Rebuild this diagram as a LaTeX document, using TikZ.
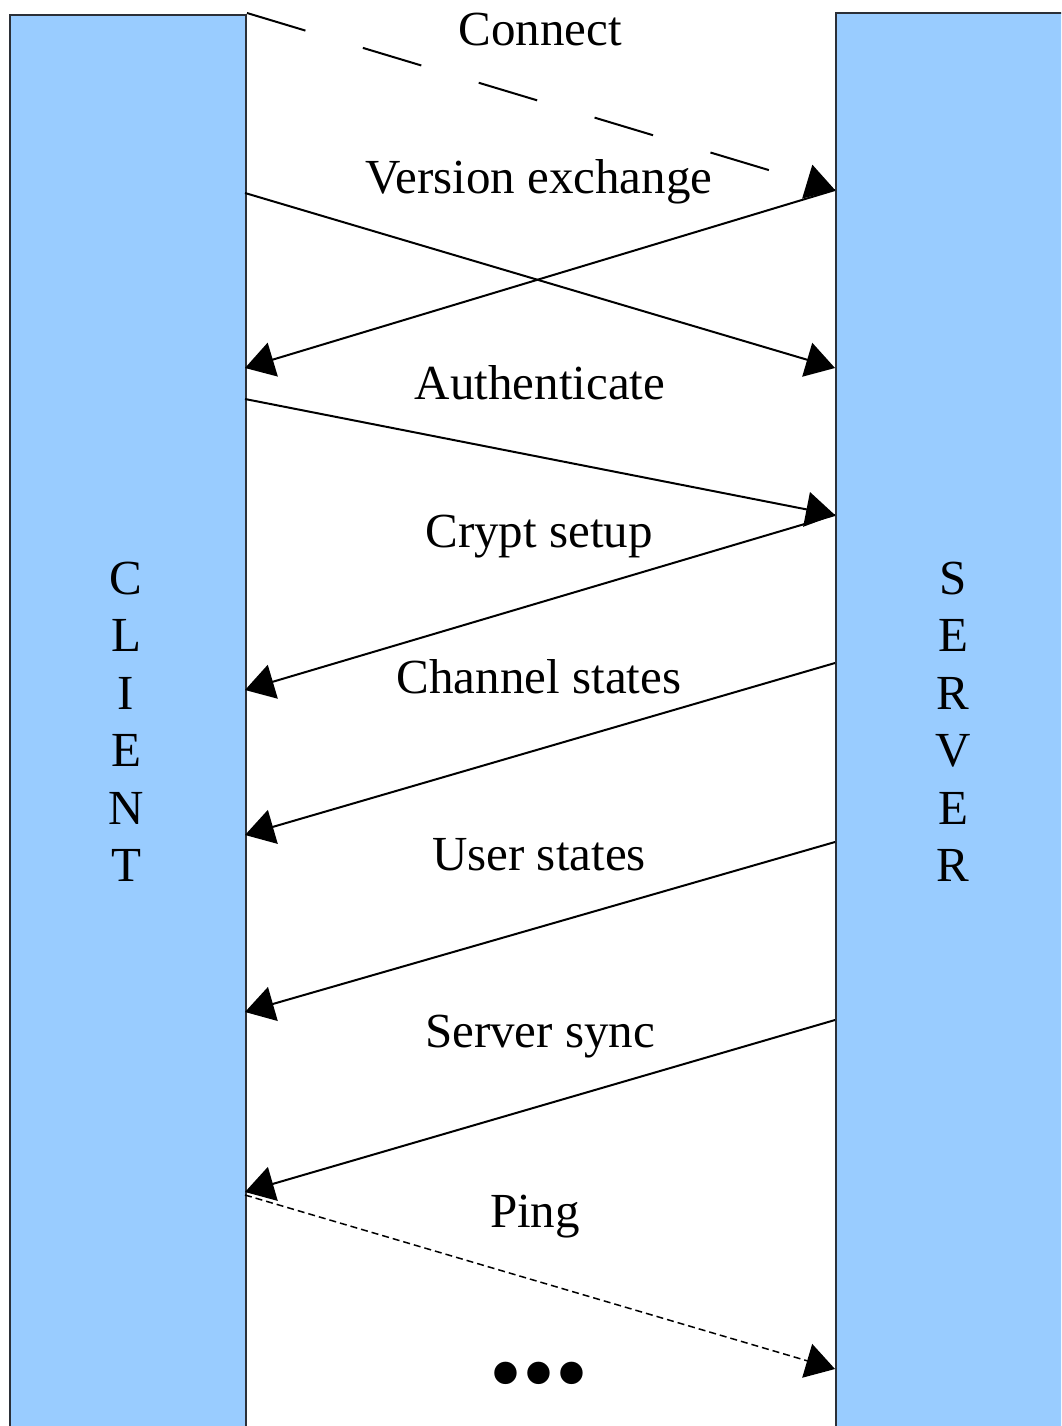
\documentclass[tikz,border=0pt]{standalone}
\usepackage{fontspec}
\setmainfont{Liberation Serif}
\usetikzlibrary{positioning}
\usetikzlibrary{calc}
\usetikzlibrary{arrows.meta}

\definecolor{barblue}{HTML}{99CCFF}
\definecolor{barline}{HTML}{2B3038}

\begin{document}
\begin{tikzpicture}[x=1pt,y=-1pt,
  side/.style={draw=barline,line width=2pt,fill=barblue,anchor=north west,
    minimum width=236pt,minimum height=1440pt,inner sep=0pt},
  msg/.style={line width=2pt,-{Triangle[length=29pt,width=35pt]}},
  lbl/.style={anchor=base,inner sep=0pt,font=\fontsize{49}{58}\selectfont},
  letters/.style={align=center,inner sep=0pt,font=\fontsize{49}{57.5}\selectfont}]
  \useasboundingbox (0,0) rectangle (1061,1426);
  \clip (0,0) rectangle (1061,1426);

  % the two sides
  \node[side] (client) at (9,14) {};
  \node[side] (server) at (835,12) {};
  \node[letters] (clientname) at (126,722) {C\\L\\I\\E\\N\\T};
  \node[letters] (servername) at (953,722) {S\\E\\R\\V\\E\\R};

  % end points on the client edge
  \coordinate (c0) at (247,13);
  \coordinate (c1) at (245,193);
  \coordinate (c2) at (245,368);
  \coordinate (c3) at (245,399);
  \coordinate (c4) at (245,690);
  \coordinate (c5) at (245,835);
  \coordinate (c6) at (245,1012);
  \coordinate (c7) at (245,1192);
  \coordinate (c8) at (245,1195);
  % end points on the server edge
  \coordinate (s0) at (835,190);
  \coordinate (s1) at (835,368);
  \coordinate (s2) at (835,515);
  \coordinate (s3) at (835,663);
  \coordinate (s4) at (835,842);
  \coordinate (s5) at (835,1020);
  \coordinate (s6) at (835,1369);

  \draw[msg,dash pattern=on 61pt off 60pt] (c0) -- (s0);
  \draw[msg] (c1) -- (s1);
  \draw[msg] (s0) -- (c2);
  \draw[msg] (c3) -- (s2);
  \draw[msg] (s2) -- (c4);
  \draw[msg] (s3) -- (c5);
  \draw[msg] (s4) -- (c6);
  \draw[msg] (s5) -- (c7);
  \draw[msg,line width=1.5pt,dash pattern=on 7pt off 4pt] (c8) -- (s6);

  % message names
  \node[lbl] (connect) at (540,46) {Connect};
  \node[lbl] (version) at (539,193) {Version exchange};
  \node[lbl] (auth) at (540,399) {Authenticate};
  \node[lbl] (crypt) at (539,547) {Crypt setup};
  \node[lbl] (channels) at (539,693) {Channel states};
  \node[lbl] (users) at (539,870) {User states};
  \node[lbl] (sync) at (540,1047) {Server sync};
  \node[lbl] (ping) at (535,1227) {Ping};
  \node[anchor=base,inner sep=0pt,font=\fontsize{94}{100}\selectfont] (more) at (539,1404) {•••};
\end{tikzpicture}
\end{document}
